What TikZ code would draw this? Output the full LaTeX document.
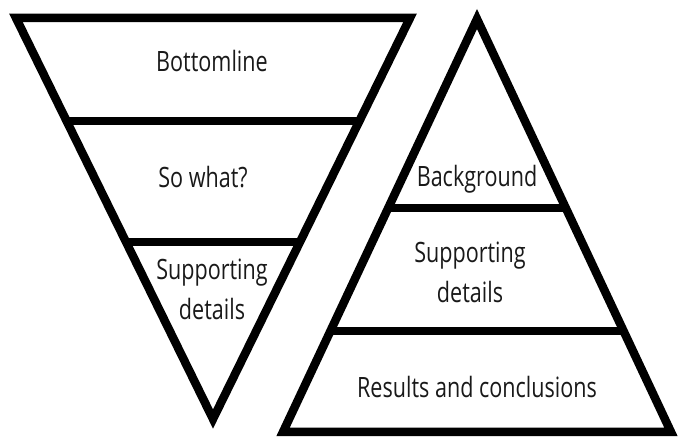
\documentclass[tikz,border=0pt]{standalone}
\usepackage{fontspec}
\setmainfont{Open Sans}[FakeStretch=0.77]
\usetikzlibrary{calc}
\tikzset{
  tri/.style={line width=8.5pt, line join=miter},
  lbl/.style={inner sep=0pt, anchor=base, align=center,
    font=\fontsize{28}{40}\selectfont, text=black!90}
}
\begin{document}
\begin{tikzpicture}[x=1pt, y=-1pt]
        \useasboundingbox (0,0) rectangle (681,438);
        % inverted triangle
        \coordinate (vl) at (16,18);
        \coordinate (vr) at (410,18);
        \coordinate (vb) at (213,419);
        \draw[tri] (vl) -- (vr) -- (vb) -- cycle;
        \foreach \t in {0.257, 0.559} {
          \draw[tri] ($(vl)!\t!(vb)$) -- ($(vr)!\t!(vb)$);
        }
        \node[lbl] (bottom) at (212,72) {Bottomline};
        \node[lbl] (sowhat) at (203,188) {So what?};
        \node[lbl] (vsupp) at (212,320) {Supporting\\details};
        % upright triangle
        \coordinate (pa) at (477,19);
        \coordinate (pl) at (283,432);
        \coordinate (pr) at (671,432);
        \draw[tri] (pa) -- (pr) -- (pl) -- cycle;
        \foreach \t in {0.458, 0.755} {
          \draw[tri] ($(pa)!\t!(pl)$) -- ($(pa)!\t!(pr)$);
        }
        \node[lbl] (backgr) at (477,187) {Background};
        \node[lbl] (psupp) at (470,303) {Supporting\\details};
        \node[lbl] (result) at (477,398) {Results and conclusions};
      \end{tikzpicture}
\end{document}
